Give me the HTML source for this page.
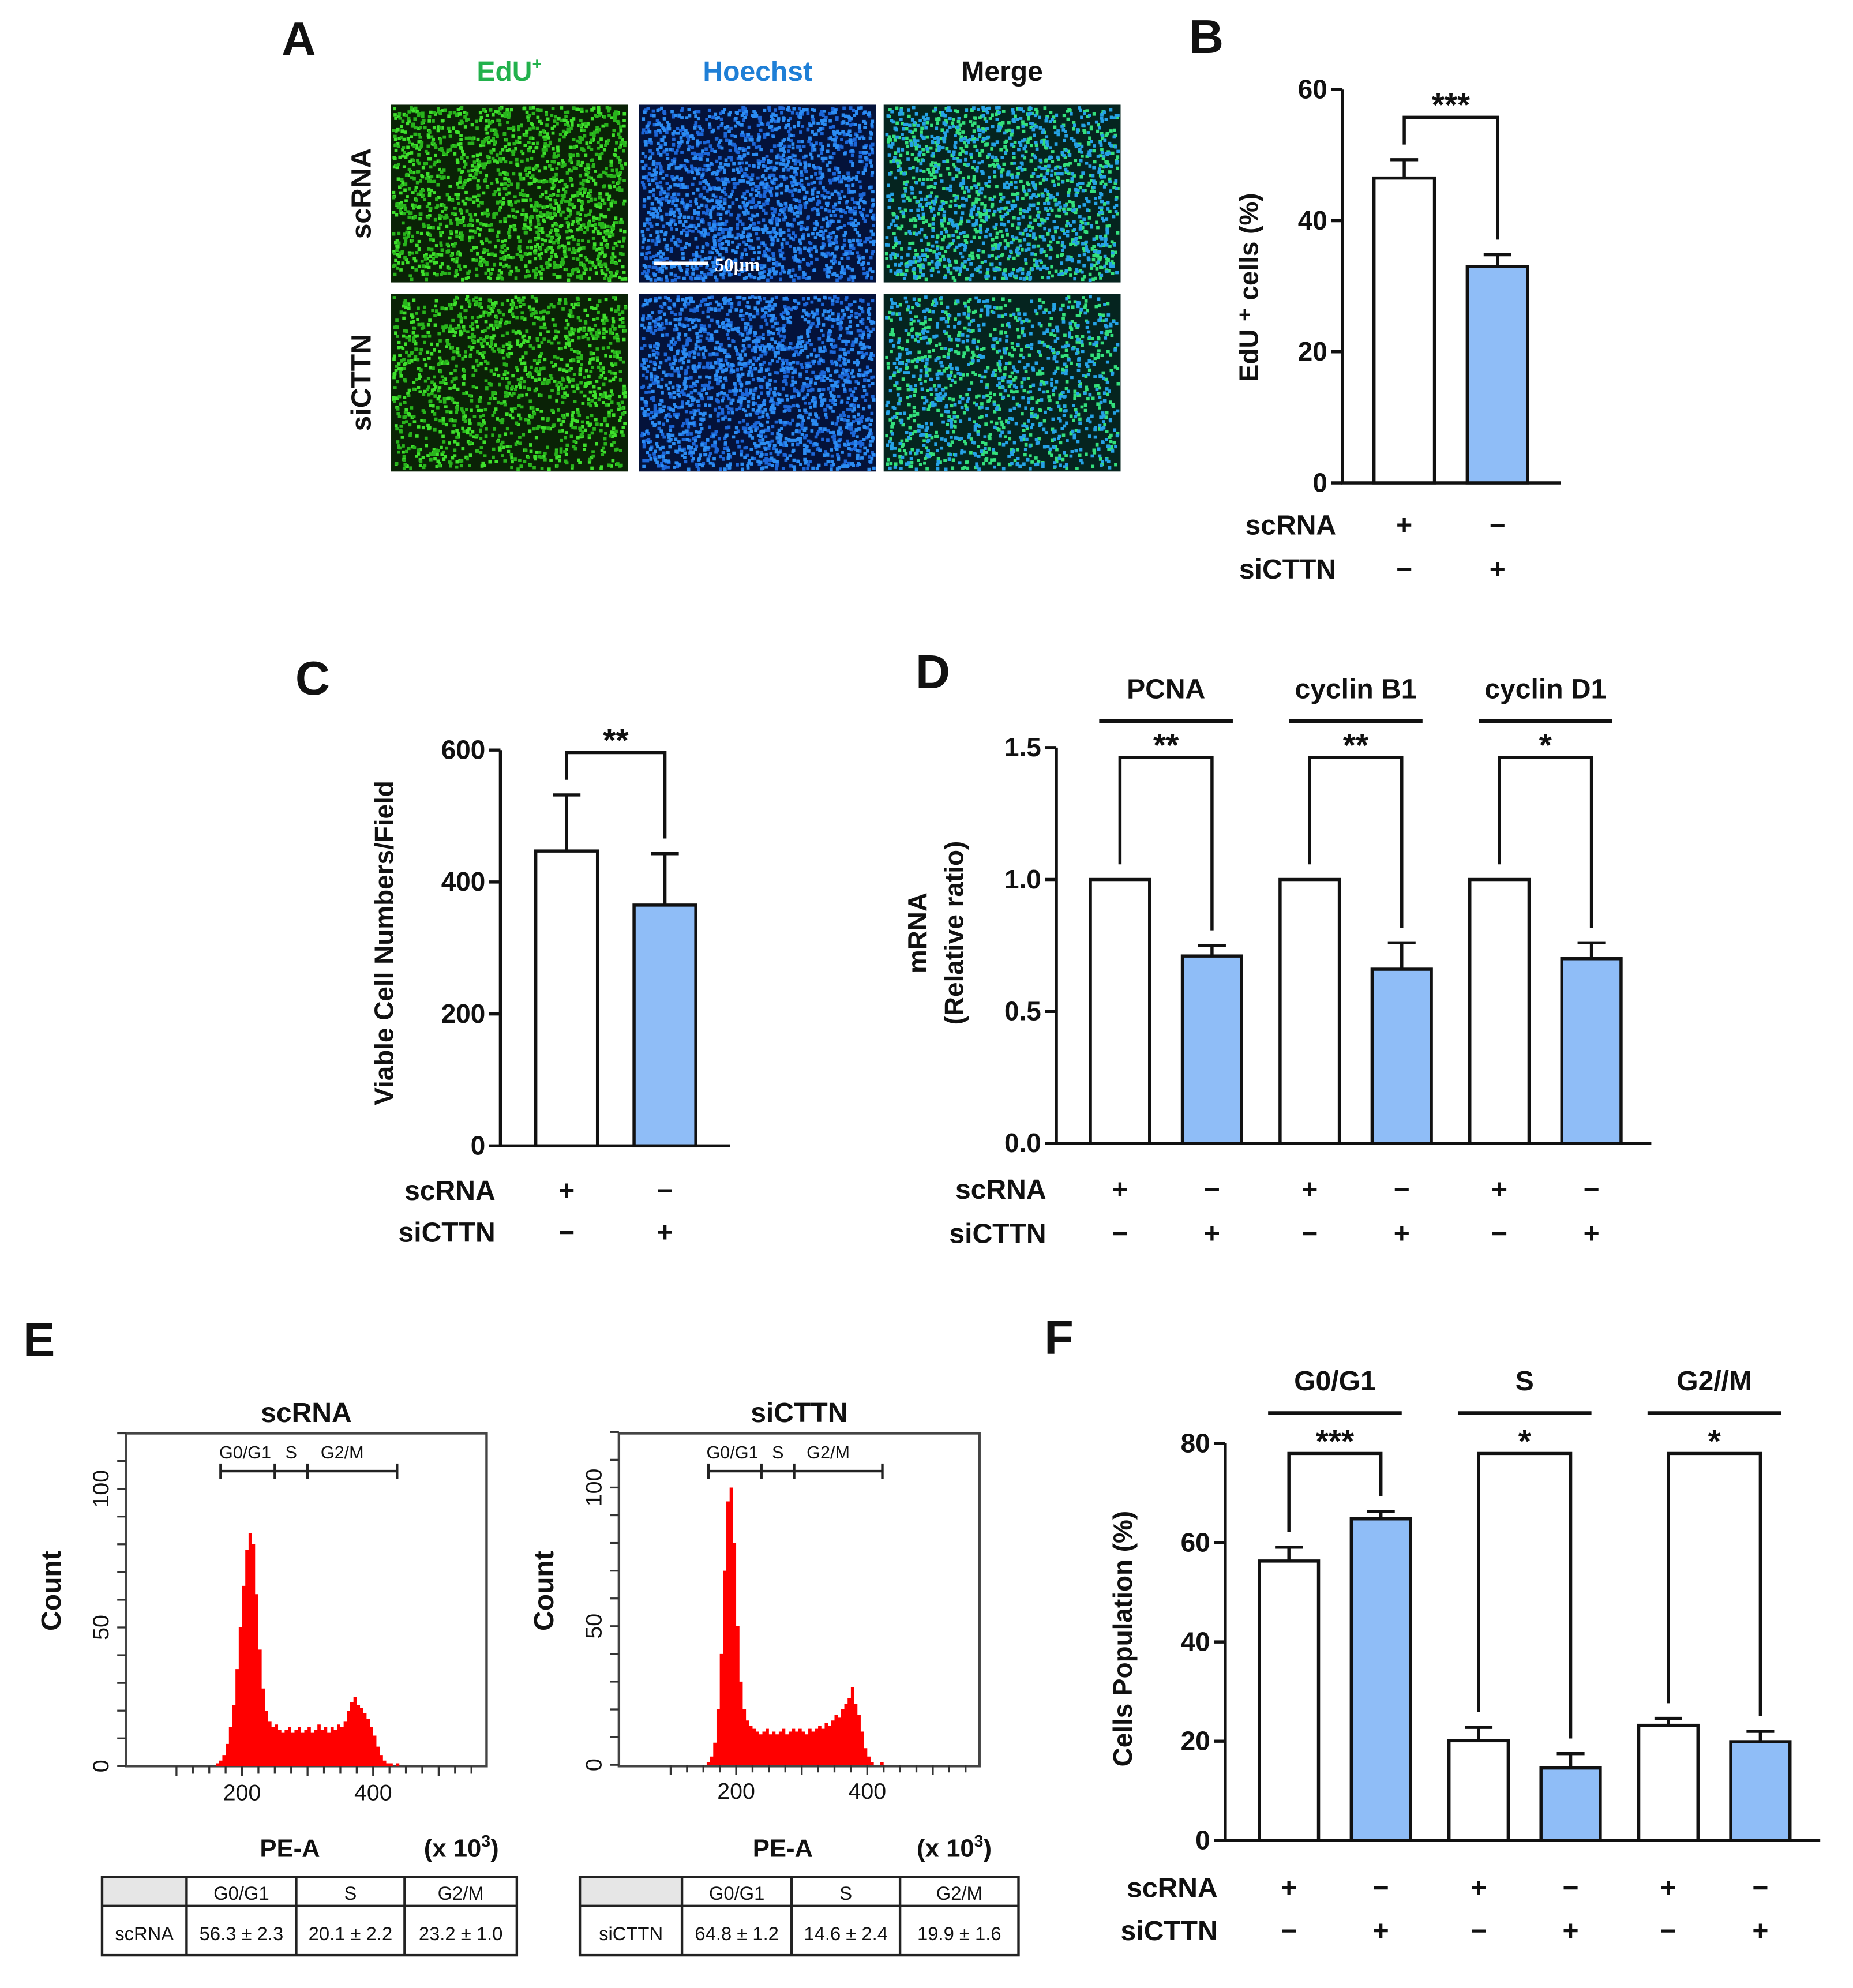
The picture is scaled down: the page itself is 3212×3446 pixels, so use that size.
<!DOCTYPE html>
<html><head><meta charset="utf-8"><style>
html,body{margin:0;padding:0;background:#fff;}
svg{display:block;}
text{font-family:"Liberation Sans",Arial,sans-serif;font-weight:bold;fill:#111;}
</style></head><body>
<svg id="fig" xmlns="http://www.w3.org/2000/svg" width="3212" height="3446" viewBox="0 0 1470 1577">
<rect width="1470" height="1577" fill="#fff"/>
<g id="panelA"></g>
<g id="panelB"></g>
<g id="panelC"></g>
<g id="panelD"></g>
<g id="panelE"></g>
<g id="panelF"></g>
</svg>
<script>
// ---- data ----
const bValues=[46.5,33.0];
const bErrors=[2.8,1.8];
const bTicks=[0,20,40,60];
const cValues=[447,365];
const cErrors=[85,78];
const cTicks=[0,200,400,600];
const dGroups=["PCNA","cyclin B1","cyclin  D1"];
const dValues=[1.0,0.71,1.0,0.66,1.0,0.70];
const dErrors=[0,0.04,0,0.10,0,0.06];
const dStars=["**","**","*"];
const dTicks=["0.0","0.5","1.0","1.5"];
const fGroups=["G0/G1","S","G2//M"];
const fValues=[56.3,64.8,20.1,14.6,23.2,19.9];
const fErrors=[2.8,1.5,2.7,2.9,1.4,2.1];
const fStars=["***","*","*"];
const fTicks=[0,20,40,60,80];
const histStart1=160, histStart2=155, histBin=5;
const histScRNA=[1,2,4,8,14,22,35,50,65,78,84,80,62,42,28,20,16,14,15,13,12,13,14,12,13,14,12,13,14,12,13,15,13,14,12,14,13,15,14,16,20,23,25,22,21,19,17,14,11,7,4,2,1,1,0,1,0];
const histSiCTTN=[1,3,8,20,40,70,95,100,80,50,30,20,16,14,13,12,11,12,13,11,12,11,12,13,11,12,13,12,13,12,11,13,12,13,14,13,15,14,16,18,17,20,22,24,28,22,18,12,6,3,1,0,0,1,0,0,0];
const tableHeaders=["G0/G1","S","G2/M"];
const tableScRNA=["56.3 ± 2.3","20.1 ± 2.2","23.2 ± 1.0"];
const tableSiCTTN=["64.8 ± 1.2","14.6 ± 2.4","19.9 ± 1.6"];

const NS="http://www.w3.org/2000/svg";
function el(parent,tag,attrs,txt){const e=document.createElementNS(NS,tag);for(const k in attrs)e.setAttribute(k,attrs[k]);if(txt!==undefined)e.textContent=txt;parent.appendChild(e);return e;}
const BLUE="#8fbdf7";

// panel letters
[["A",237,44,"panelA"],["B",957,42,"panelB"],["C",248,551,"panelC"],["D",740,546,"panelD"],["E",31,1076,"panelE"],["F",840,1074,"panelF"]].forEach(l=>{
 const t=el(document.getElementById(l[3]),"text",{x:l[1],y:l[2],"font-size":38,"text-anchor":"middle"},l[0]);
 
 
});

// ---- Panel A (micrographs) ----
(function(){
 const g=document.getElementById("panelA");
 let seed=7;function rnd(){seed=(seed*16807)%2147483647;return seed/2147483647;}
 const cols=[310,507,701],rows=[83,233],w=188,h=141;
 const titles=[["EdU","#22b14c"],["Hoechst","#1f7fd6"],["Merge","#111"]];
 titles.forEach((t,i)=>{const tx=el(g,"text",{x:cols[i]+w/2,y:64,"font-size":22,"text-anchor":"middle",fill:t[1],style:"fill:"+t[1]},t[0]);
  
  
  if(i===0){el(tx,"tspan",{dy:-9,"font-size":13},"+");}
 });
 ["scRNA","siCTTN"].forEach((r,j)=>{const tx=el(g,"text",{x:0,y:0,"font-size":22,"text-anchor":"middle",transform:`translate(294,${rows[j]+h/2}) rotate(-90)`},r);
  
  });
 const bg=["#0a2206","#04123a","#05241f"];
 const dots=[["#3ee02c","#28b41c"],["#1c66d8","#2b8cf2"],["#33e07c","#25a2e6"]];
 rows.forEach((ry,j)=>cols.forEach((cx,i)=>{
  const im=el(g,"g",{});
  
  
  el(im,"rect",{x:cx,y:ry,width:w,height:h,fill:bg[i]});
  const n=i===1?2000:(j===0?1700:1300);let d="";let d2="";
  for(let k=0;k<n;k++){const x=cx+1+rnd()*(w-4),y=ry+1+rnd()*(h-4);if(k%2)d+=`M${x.toFixed(1)} ${y.toFixed(1)}h2.6v2.6h-2.6z`;else d2+=`M${x.toFixed(1)} ${y.toFixed(1)}h2.6v2.6h-2.6z`;}
  el(im,"path",{d:d,fill:dots[i][0]});el(im,"path",{d:d2,fill:dots[i][1]});
 }));
 el(g,"line",{x1:519,y1:209,x2:562,y2:209,stroke:"#fff","stroke-width":3});
 const sb=el(g,"text",{x:567,y:215,"font-size":15,style:"fill:#fff;font-family:'Liberation Serif',serif"},"50μm");
 
 
})();

// ---- generic bar chart ----
function barChart(g,o){
 const ys=v=>o.y0-(v-o.min)/(o.max-o.min)*(o.y0-o.yTop);
 el(g,"line",{x1:o.ax,y1:o.yTop,x2:o.ax,y2:o.y0,stroke:"#111","stroke-width":2.5});
 el(g,"line",{x1:o.ax-1,y1:o.y0,x2:o.axEnd,y2:o.y0,stroke:"#111","stroke-width":2.5});
 o.ticks.forEach(t=>{const y=ys(parseFloat(t));el(g,"line",{x1:o.ax-9,y1:y,x2:o.ax,y2:y,stroke:"#111","stroke-width":2.5});
  const tx=el(g,"text",{x:o.ax-12,y:y+7,"font-size":21,"text-anchor":"end"},t);
  
  });
 const tops=[];
 o.values.forEach((v,i)=>{
  const x=o.bx0+(i%2)*o.step+Math.floor(i/2)*(o.gstep||0);
  const y=ys(v);const cx=x+o.bw/2;
  const r=el(g,"rect",{x:x,y:y,width:o.bw,height:o.y0-y,fill:i%2?BLUE:"#fff",stroke:"#111","stroke-width":2.5});
  
  
  let et=y;
  if(o.errors[i]>0){et=ys(v+o.errors[i]);el(g,"line",{x1:cx,y1:y,x2:cx,y2:et,stroke:"#111","stroke-width":2.5});el(g,"line",{x1:cx-11,y1:et,x2:cx+11,y2:et,stroke:"#111","stroke-width":2.5});}
  tops.push([cx,et]);
  const p=el(g,"text",{x:cx,y:o.signY1,"font-size":22,"text-anchor":"middle"},i%2?"−":"+");
  
  
  const q=el(g,"text",{x:cx,y:o.signY2,"font-size":22,"text-anchor":"middle"},i%2?"+":"−");
  
  
 });
 for(let k=0;k<tops.length/2;k++){
  const a=tops[2*k],b=tops[2*k+1];
  el(g,"path",{d:`M${a[0]} ${a[1]-12}V${o.brY}H${b[0]}V${b[1]-12}`,fill:"none",stroke:"#111","stroke-width":2.5});
  const s=el(g,"text",{x:(a[0]+b[0])/2,y:o.brY-1,"font-size":26,"text-anchor":"middle"},o.stars[k]);
  
  
  if(o.groups){const gc=(a[0]+b[0])/2;
   const gt=el(g,"text",{x:gc,y:o.grY,"font-size":22,"text-anchor":"middle"},o.groups[k]);
   
   
   el(g,"line",{x1:gc-53,y1:o.grY+18,x2:gc+53,y2:o.grY+18,stroke:"#111","stroke-width":3});}
 }
 const l1=el(g,"text",{x:o.lblX,y:o.signY1,"font-size":22,"text-anchor":"end"},"scRNA");
 
 
 const l2=el(g,"text",{x:o.lblX,y:o.signY2,"font-size":22,"text-anchor":"end"},"siCTTN");
 
 
 o.titles.forEach(t=>{const tt=el(g,"text",{x:0,y:0,"font-size":21,"text-anchor":"middle",transform:`translate(${t[0]},${t[1]}) rotate(-90)`},t[2]);
  
  });
}
barChart(document.getElementById("panelB"),{values:bValues,errors:bErrors,ticks:bTicks.map(String),min:0,max:60,y0:383,yTop:71,ax:1065,axEnd:1238,bx0:1090,bw:48,step:74,brY:93,stars:["***"],signY1:424,signY2:459,lblX:1060,titles:[[998,228,"EdU ⁺ cells (%)"]]});
barChart(document.getElementById("panelC"),{values:cValues,errors:cErrors,ticks:cTicks.map(String),min:0,max:600,y0:909,yTop:595,ax:397,axEnd:579,bx0:425,bw:49,step:78,brY:597,stars:["**"],signY1:952,signY2:985,lblX:393,titles:[[312,748,"Viable Cell Numbers/Field"]]});
barChart(document.getElementById("panelD"),{values:dValues,errors:dErrors,ticks:dTicks,min:0,max:1.5,y0:907,yTop:593,ax:838,axEnd:1310,bx0:865,bw:47,step:73,gstep:150.5,brY:601,stars:dStars,groups:dGroups,grY:554,signY1:951,signY2:986,lblX:830,titles:[[735,740,"mRNA"],[764,740,"(Relative ratio)"]]});
barChart(document.getElementById("panelF"),{values:fValues,errors:fErrors,ticks:fTicks.map(String),min:0,max:80,y0:1460,yTop:1145,ax:972,axEnd:1444,bx0:999,bw:47,step:73,gstep:150.5,brY:1153,stars:fStars,groups:fGroups,grY:1103,signY1:1505,signY2:1539,lblX:966,titles:[[898,1300,"Cells Population (%)"]]});

// ---- Panel E histograms ----
function histogram(g,o){
 const xs=v=>o.x200+(v-200)*0.52;
 const ys=c=>o.y0-c*2.2;
 el(g,"rect",{x:o.fx,y:1137,width:286,height:264,fill:"none",stroke:"#444","stroke-width":2});
 let d=`M${xs(o.start)} ${o.y0}`;
 o.counts.forEach((c,i)=>{const x0=xs(o.start+i*histBin),x1=xs(o.start+(i+1)*histBin);d+=`L${x0} ${ys(c)}L${x1} ${ys(c)}`;});
 d+=`L${xs(o.start+o.counts.length*histBin)} ${o.y0}Z`;
 const p=el(g,"path",{d:d,fill:"#ff0000"});
 
 
 for(let v=100;v<=550;v+=25){const x=xs(v);if(x<o.fx+2||x>o.fx+286)continue;el(g,"line",{x1:x,y1:o.y0,x2:x,y2:o.y0+(v%100===0?8:6),stroke:"#333","stroke-width":1.5});}
 [200,400].forEach(v=>{const t=el(g,"text",{x:xs(v),y:o.y0+27,"font-size":18,"text-anchor":"middle",style:"font-weight:normal"},String(v));
  
  });
 for(let c=0;c<=120;c+=10){const y=ys(c);el(g,"line",{x1:o.fx-7,y1:y,x2:o.fx,y2:y,stroke:"#333","stroke-width":1.5});}
 [0,50,100].forEach(c=>{const t=el(g,"text",{x:0,y:0,"font-size":18,"text-anchor":"middle",style:"font-weight:normal",transform:`translate(${o.fx-14},${ys(c)}) rotate(-90)`},String(c));
  
  });
 const gy=1167;el(g,"line",{x1:o.gate[0],y1:gy,x2:o.gate[3],y2:gy,stroke:"#222","stroke-width":2});
 o.gate.forEach(x=>el(g,"line",{x1:x,y1:gy-6,x2:x,y2:gy+6,stroke:"#222","stroke-width":2}));
 [["G0/G1",(o.gate[0]+o.gate[1])/2-2],["S",(o.gate[1]+o.gate[2])/2],["G2/M",(o.gate[2]+o.gate[3])/2-8]].forEach(l=>{
  const t=el(g,"text",{x:l[1],y:1157,"font-size":14,"text-anchor":"middle",style:"font-weight:normal"},l[0]);
  
  });
 const ti=el(g,"text",{x:o.fx+143,y:1128,"font-size":22,"text-anchor":"middle"},o.title);
 
 
 const ct=el(g,"text",{x:0,y:0,"font-size":22,"text-anchor":"middle",transform:`translate(${o.fx-52},1262) rotate(-90)`},"Count");
 
 
 const pe=el(g,"text",{x:o.fx+130,y:1473,"font-size":20,"text-anchor":"middle"},"PE-A");
 
 
 const un=el(g,"text",{x:o.fx+266,y:1473,"font-size":20,"text-anchor":"middle"},"(x 10");
 el(un,"tspan",{dy:-8,"font-size":13},"3");el(un,"tspan",{dy:8},")");
 
 
 const T=o.table;const tb=el(g,"g",{});
 
 
 el(tb,"rect",{x:T.x,y:1489,width:T.c[0]-T.x,height:23,fill:"#e6e6e6"});
 el(tb,"rect",{x:T.x,y:1489,width:T.w,height:62,fill:"none",stroke:"#222","stroke-width":2});
 el(tb,"line",{x1:T.x,y1:1512,x2:T.x+T.w,y2:1512,stroke:"#222","stroke-width":2});
 const edges=[T.x].concat(T.c).concat([T.x+T.w]);
 T.c.forEach(x=>el(tb,"line",{x1:x,y1:1489,x2:x,y2:1551,stroke:"#222","stroke-width":2}));
 tableHeaders.forEach((h,i)=>{const t=el(tb,"text",{x:(edges[i+1]+edges[i+2])/2,y:1507,"font-size":15,"text-anchor":"middle",style:"font-weight:normal"},h);
  
  });
 const rl=el(tb,"text",{x:(edges[0]+edges[1])/2,y:1539,"font-size":15,"text-anchor":"middle",style:"font-weight:normal"},o.title);
 
 
 o.rows.forEach((h,i)=>{const t=el(tb,"text",{x:(edges[i+1]+edges[i+2])/2,y:1539,"font-size":15,"text-anchor":"middle",style:"font-weight:normal"},h);
  
  });
}
histogram(document.getElementById("panelE"),{fx:100,x200:192,y0:1401,counts:histScRNA,start:histStart1,gate:[175,218,244,315],title:"scRNA",rows:tableScRNA,table:{x:81,w:329,c:[148,235,321]}});
histogram(document.getElementById("panelE"),{fx:491,x200:584,y0:1400,counts:histSiCTTN,start:histStart2,gate:[562,604,630,700],title:"siCTTN",rows:tableSiCTTN,table:{x:460,w:348,c:[541,628,714]}});
</script>
</body></html>
